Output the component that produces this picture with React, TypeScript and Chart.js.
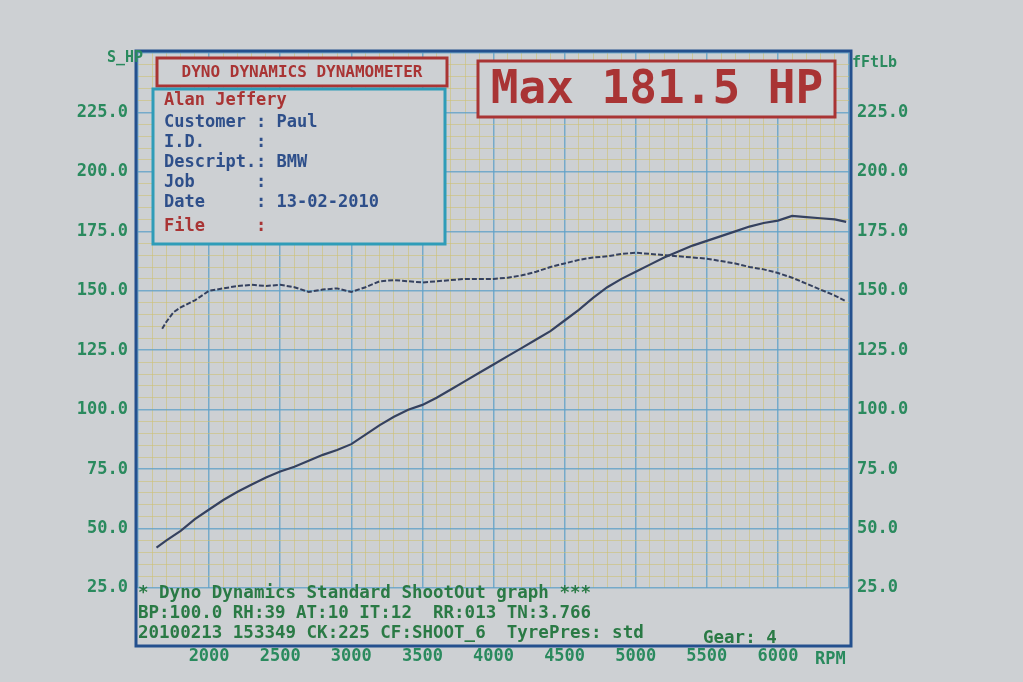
import { useEffect, useRef } from 'react';
import { Chart, registerables } from 'chart.js';

Chart.register(...registerables);

// ---------- data ----------
const rpmHp = [1630, 1700, 1800, 1900, 2000, 2100, 2200, 2300, 2400, 2500, 2600, 2700, 2800, 2900, 3000, 3100, 3200, 3300, 3400, 3500, 3600, 3700, 3800, 3900, 4000, 4100, 4200, 4300, 4400, 4500, 4600, 4700, 4800, 4900, 5000, 5100, 5200, 5300, 5400, 5500, 5600, 5700, 5800, 5900, 6000, 6100, 6200, 6300, 6400, 6480];
const hpValues = [42, 45, 49, 54, 58, 62, 65.5, 68.5, 71.5, 74, 76, 78.5, 81, 83, 85.5, 89.5, 93.5, 97, 100, 102, 105, 108.5, 112, 115.5, 119, 122.5, 126, 129.5, 133, 137.5, 142, 147, 151.5, 155, 158, 161, 164, 166.5, 169, 171, 173, 175, 177, 178.5, 179.5, 181.5, 181, 180.5, 180, 179];

const rpmTq = [1670, 1700, 1750, 1800, 1900, 2000, 2100, 2200, 2300, 2400, 2500, 2600, 2700, 2800, 2900, 3000, 3100, 3200, 3300, 3400, 3500, 3600, 3700, 3800, 3900, 4000, 4100, 4200, 4300, 4400, 4500, 4600, 4700, 4800, 4900, 5000, 5100, 5200, 5300, 5400, 5500, 5600, 5700, 5800, 5900, 6000, 6100, 6200, 6300, 6400, 6480];
const tqValues = [134, 137, 141, 143, 146, 150, 151, 152, 152.5, 152, 152.5, 151.5, 149.5, 150.5, 151, 149.5, 151.5, 154, 154.5, 154, 153.5, 154, 154.5, 155, 155, 155, 155.5, 156.5, 158, 160, 161.5, 163, 164, 164.5, 165.5, 166, 165.5, 165, 164.5, 164, 163.5, 162.5, 161.5, 160, 159, 157.5, 155.5, 153, 150.5, 148, 145.5];

const xLabelValues = [2000, 2500, 3000, 3500, 4000, 4500, 5000, 5500, 6000];
const yLabelValues = [25, 50, 75, 100, 125, 150, 175, 200, 225];

const infoLines = [
  { text: 'Alan Jeffery', red: true },
  { text: 'Customer : Paul', red: false },
  { text: 'I.D.     :', red: false },
  { text: 'Descript.: BMW', red: false },
  { text: 'Job      :', red: false },
  { text: 'Date     : 13-02-2010', red: false },
  { text: 'File     :', red: true },
];
const footerLines = [
  '* Dyno Dynamics Standard ShootOut graph ***',
  'BP:100.0 RH:39 AT:10 IT:12  RR:013 TN:3.766',
  '20100213 153349 CK:225 CF:SHOOT_6  TyrePres: std',
];
const gearText = 'Gear: 4';
const maxText = 'Max 181.5 HP';
const titleText = 'DYNO DYNAMICS DYNAMOMETER';

// ---------- styles ----------
const BG = '#cdd0d3';
const MAJOR = 'rgba(95,160,200,0.8)';
const MINOR = 'rgba(205,192,110,0.55)';
const FRAME = '#24508e';
const GREEN = '#2a8a5e';
const FOOT = '#2a7a45';
const RED = '#a93434';
const BLUE_TXT = '#2e4f8a';
const CYAN = '#2f9cb8';
const CURVE = '#35415f';
const MONO = '"DejaVu Sans Mono", "Liberation Mono", monospace';

const overlay = {
  id: 'overlay',
  afterDraw(chart: any) {
    const ctx = chart.ctx;
    const ca = chart.chartArea;
    ctx.save();
    // footer background
    ctx.fillStyle = BG;
    ctx.fillRect(ca.left, ca.bottom + 1, ca.right - ca.left, 58);
    // outer frame
    ctx.strokeStyle = FRAME;
    ctx.lineWidth = 3;
    ctx.strokeRect(ca.left - 2, ca.top - 2, ca.right - ca.left + 4, 648 - ca.top);

    // title box
    ctx.fillStyle = BG;
    ctx.fillRect(157, 58, 290, 28);
    ctx.strokeStyle = RED;
    ctx.lineWidth = 3;
    ctx.strokeRect(157, 58, 290, 28);
    ctx.fillStyle = RED;
    ctx.font = `bold 16px ${MONO}`;
    ctx.textAlign = 'center';
    ctx.textBaseline = 'middle';
    ctx.fillText(titleText, 302, 73);

    // info box
    ctx.fillStyle = BG;
    ctx.fillRect(153, 89, 292, 155);
    ctx.strokeStyle = CYAN;
    ctx.lineWidth = 3;
    ctx.strokeRect(153, 89, 292, 155);
    ctx.font = `bold 17px ${MONO}`;
    ctx.textAlign = 'left';
    const ys = [101, 123, 143, 163, 183, 203, 227];
    infoLines.forEach((l, i) => {
      ctx.fillStyle = l.red ? RED : BLUE_TXT;
      ctx.fillText(l.text, 164, ys[i]);
    });

    // max box
    ctx.fillStyle = BG;
    ctx.fillRect(478, 61, 357, 56);
    ctx.strokeStyle = RED;
    ctx.lineWidth = 3;
    ctx.strokeRect(478, 61, 357, 56);
    ctx.fillStyle = RED;
    ctx.font = `bold 46px ${MONO}`;
    ctx.textAlign = 'center';
    ctx.fillText(maxText, 657, 91);

    // axis titles
    ctx.fillStyle = GREEN;
    ctx.font = `bold 15px ${MONO}`;
    ctx.textAlign = 'right';
    ctx.fillText('S_HP', 143, 58);
    ctx.textAlign = 'left';
    ctx.fillText('fFtLb', 852, 63);
    ctx.font = `bold 17px ${MONO}`;
    ctx.textAlign = 'left';
    ctx.fillText('RPM', 815, 660);

    // footer
    ctx.fillStyle = FOOT;
    ctx.font = `bold 17.5px ${MONO}`;
    ctx.textAlign = 'left';
    footerLines.forEach((t, i) => ctx.fillText(t, 138, 593 + i * 20));
    ctx.fillText(gearText, 703, 638);
    ctx.restore();
  },
};

export default function App() {
  const ref = useRef<HTMLCanvasElement | null>(null);

  useEffect(() => {
    if (!ref.current) return;
    const tickFont = { family: MONO, size: 17, weight: 'bold' as const };
    const chart = new Chart(ref.current, {
      type: 'line',
      data: {
        datasets: [
          {
            label: 'S_HP',
            data: rpmHp.map((x, i) => ({ x, y: hpValues[i] })),
            yAxisID: 'y',
            borderColor: CURVE,
            borderWidth: 2.2,
            pointRadius: 0,
            tension: 0,
          },
          {
            label: 'fFtLb',
            data: rpmTq.map((x, i) => ({ x, y: tqValues[i] })),
            yAxisID: 'y2',
            borderColor: CURVE,
            borderWidth: 2,
            borderDash: [5, 2],
            pointRadius: 0,
            tension: 0,
          },
        ],
      },
      plugins: [overlay],
      options: {
        animation: false,
        responsive: false,
        devicePixelRatio: 1,
        layout: { padding: { top: 53, left: 0, right: 0, bottom: 0 } },
        plugins: { legend: { display: false }, tooltip: { enabled: false } },
        scales: {
          x: {
            type: 'linear',
            min: 1500,
            max: 6500,
            border: { display: false },
            grid: {
              drawTicks: false,
              color: (c: any) => (Math.round(c.tick.value) % 500 === 0 ? MAJOR : MINOR),
              lineWidth: (c: any) => (Math.round(c.tick.value) % 500 === 0 ? 1.5 : 1),
            },
            ticks: {
              stepSize: 100,
              autoSkip: false,
              maxRotation: 0,
              padding: 58,
              color: GREEN,
              font: tickFont,
              callback: (v: any) => (xLabelValues.includes(Math.round(v)) ? String(Math.round(v)) : ''),
            },
            afterFit: (s: any) => {
              s.height = 94;
            },
          },
          y: {
            position: 'left',
            min: 25,
            max: 250,
            border: { display: false },
            grid: {
              drawTicks: false,
              color: (c: any) => (Math.round(c.tick.value) % 25 === 0 ? MAJOR : MINOR),
              lineWidth: (c: any) => (Math.round(c.tick.value) % 25 === 0 ? 1.5 : 1),
            },
            ticks: {
              stepSize: 5,
              autoSkip: false,
              padding: 10,
              color: GREEN,
              font: tickFont,
              callback: (v: any) => (yLabelValues.includes(Math.round(v)) ? Number(v).toFixed(1) : ''),
            },
            afterFit: (s: any) => {
              s.width = 138;
            },
          },
          y2: {
            position: 'right',
            min: 25,
            max: 250,
            border: { display: false },
            grid: { display: false, drawTicks: false },
            ticks: {
              stepSize: 5,
              autoSkip: false,
              padding: 8,
              color: GREEN,
              font: tickFont,
              callback: (v: any) => (yLabelValues.includes(Math.round(v)) ? Number(v).toFixed(1) : ''),
            },
            afterFit: (s: any) => {
              s.width = 174;
            },
          },
        },
      },
    } as any);
    return () => chart.destroy();
  }, []);

  return (
    <div style={{ position: 'fixed', left: 0, top: 0, width: 1023, height: 682, background: BG }}>
      <canvas ref={ref} width={1023} height={682} style={{ display: 'block' }} />
    </div>
  );
}
